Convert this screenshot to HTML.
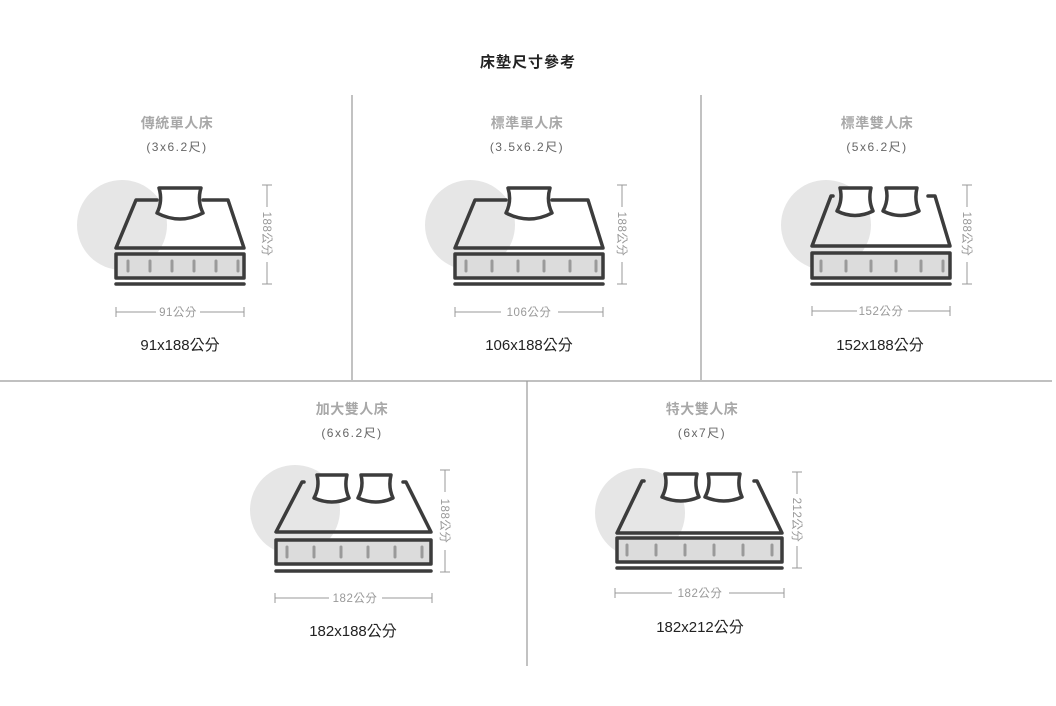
<!DOCTYPE html>
<html><head><meta charset="utf-8"><style>
html,body{margin:0;padding:0;background:#fff;}
svg{display:block;}
</style></head><body>
<svg width="1056" height="706" viewBox="0 0 1056 706" xmlns="http://www.w3.org/2000/svg">
<text x="528" y="67" text-anchor="middle" font-size="15" font-weight="bold" fill="#222" letter-spacing="1" font-family="Liberation Sans,Noto Sans CJK TC,sans-serif">床墊尺寸參考</text>
<g stroke="#9a9a9a" stroke-width="1.2">
<line x1="352" y1="95" x2="352" y2="380"/>
<line x1="701" y1="95" x2="701" y2="380"/>
<line x1="0" y1="381" x2="1052" y2="381"/>
<line x1="527" y1="381" x2="527" y2="666"/>
</g>
<g fill="#e6e6e6">
<circle cx="122" cy="225" r="45"/>
<circle cx="470" cy="225" r="45"/>
<circle cx="826" cy="225" r="45"/>
<circle cx="295" cy="510" r="45"/>
<circle cx="640" cy="513" r="45"/>
</g>
<g font-family="Liberation Sans,Noto Sans CJK TC,sans-serif" text-anchor="middle">
<g font-size="14" font-weight="bold" fill="#a8a8a8" letter-spacing="0.5">
<text x="177" y="128">傳統單人床</text>
<text x="527" y="128">標準單人床</text>
<text x="877" y="128">標準雙人床</text>
<text x="352" y="414">加大雙人床</text>
<text x="702" y="414">特大雙人床</text>
</g>
<g font-size="12" fill="#666" letter-spacing="1.5">
<text x="177" y="151">(3x6.2尺)</text>
<text x="527" y="151">(3.5x6.2尺)</text>
<text x="877" y="151">(5x6.2尺)</text>
<text x="352" y="437">(6x6.2尺)</text>
<text x="702" y="437">(6x7尺)</text>
</g>
<g font-size="15" fill="#222">
<text x="180" y="350">91x188公分</text>
<text x="529" y="350">106x188公分</text>
<text x="880" y="350">152x188公分</text>
<text x="353" y="636">182x188公分</text>
<text x="700" y="632">182x212公分</text>
</g>
</g>
<g fill="none" stroke="#3c3c3c" stroke-width="3.5" stroke-linejoin="round" stroke-linecap="round">
<path d="M157,200 L136,200 L116,248 L244,248 L228,200 L203,200"/>
<path d="M159,188 L201,188 Q197,201 203,213 Q180,225 157,213 Q163,201 159,188 Z" fill="#fff"/>
<rect x="116" y="254" width="128" height="24" fill="#dcdcdc"/>
<line x1="116" y1="284" x2="244" y2="284"/>
<path d="M506,200 L475,200 L455,248 L603,248 L588,200 L552,200"/>
<path d="M508,188 L550,188 Q546,201 552,213 Q529,225 506,213 Q512,201 508,188 Z" fill="#fff"/>
<rect x="455" y="254" width="148" height="24" fill="#dcdcdc"/>
<line x1="455" y1="284" x2="603" y2="284"/>
<path d="M833,196 L831,196 L812,246 L950,246 L935,196 L928,196"/>
<path d="M840,188 L871,188 Q868,200 873,211 Q855,220 837,211 Q843,200 840,188 Z" fill="#fff"/>
<path d="M886,188 L917,188 Q914,200 919,211 Q901,220 883,211 Q889,200 886,188 Z" fill="#fff"/>
<rect x="812" y="253" width="138" height="25" fill="#dcdcdc"/>
<line x1="812" y1="284" x2="950" y2="284"/>
<path d="M304,482 L302,482 L276,532 L431,532 L406,482 L403,482"/>
<path d="M317,475 L347,475 Q344,487 349,498 Q332,506 314,498 Q320,487 317,475 Z" fill="#fff"/>
<path d="M361,475 L391,475 Q388,487 393,498 Q376,506 358,498 Q364,487 361,475 Z" fill="#fff"/>
<rect x="276" y="540" width="155" height="24" fill="#dcdcdc"/>
<line x1="276" y1="571" x2="431" y2="571"/>
<path d="M644,481 L642,481 L617,533 L782,533 L757,481 L754,481"/>
<path d="M665,474 L697,474 Q694,486 699,497 Q681,505 662,497 Q668,486 665,474 Z" fill="#fff"/>
<path d="M708,474 L740,474 Q737,486 742,497 Q724,505 705,497 Q711,486 708,474 Z" fill="#fff"/>
<rect x="617" y="538" width="165" height="24" fill="#dcdcdc"/>
<line x1="617" y1="568" x2="782" y2="568"/>
</g>
<g stroke="#9a9a9a" stroke-width="3" stroke-linecap="round">
<path d="M128,261v10M150,261v10M172,261v10M194,261v10M216,261v10M238,261v10"/>
<path d="M466,261v10M492,261v10M518,261v10M544,261v10M570,261v10M596,261v10"/>
<path d="M821,261v10M846,261v10M871,261v10M896,261v10M921,261v10M943,261v10"/>
<path d="M287,547v10M314,547v10M341,547v10M368,547v10M395,547v10M422,547v10"/>
<path d="M627,545v10M656,545v10M685,545v10M714,545v10M743,545v10M772,545v10"/>
</g>
<g stroke="#999" stroke-width="1" fill="none">
<path d="M262,185h10M267,185v22M267,262v22M262,284h10"/>
<path d="M617,185h10M622,185v22M622,262v22M617,284h10"/>
<path d="M962,185h10M967,185v22M967,262v22M962,284h10"/>
<path d="M440,470h10M445,470v22M445,550v22M440,572h10"/>
<path d="M792,472h10M797,472v22M797,546v22M792,568h10"/>
<path d="M116,307v10M116,312h40M200,312h44M244,307v10"/>
<path d="M455,307v10M455,312h46M558,312h45M603,307v10"/>
<path d="M812,306v10M812,311h45M908,311h42M950,306v10"/>
<path d="M275,593v10M275,598h54M382,598h50M432,593v10"/>
<path d="M615,588v10M615,593h57M729,593h55M784,588v10"/>
</g>
<g font-family="Liberation Sans,Noto Sans CJK TC,sans-serif" font-size="11.5" fill="#999" text-anchor="middle" letter-spacing="0.5">
<text x="178" y="316">91公分</text>
<text x="529" y="316">106公分</text>
<text x="881" y="315">152公分</text>
<text x="355" y="602">182公分</text>
<text x="700" y="597">182公分</text>
<text transform="translate(263,234) rotate(90)">188公分</text>
<text transform="translate(618,234) rotate(90)">188公分</text>
<text transform="translate(963,234) rotate(90)">188公分</text>
<text transform="translate(441,521) rotate(90)">188公分</text>
<text transform="translate(793,520) rotate(90)">212公分</text>
</g>
</svg>
</body></html>
